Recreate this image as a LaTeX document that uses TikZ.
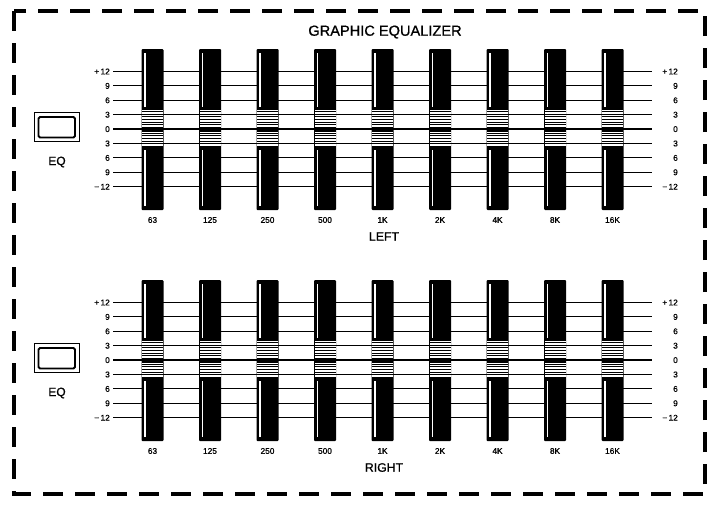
\documentclass[tikz,border=0pt]{standalone}
\usepackage{fontspec}
\setmainfont{Liberation Sans}
\newfontfamily\heavyfont[FakeBold=0.8]{Liberation Sans}
\begin{document}
\begin{tikzpicture}[x=1pt,y=-1pt,
  scl/.style={font=\heavyfont\fontsize{8.3}{9}\selectfont, anchor=east, inner sep=0pt},
  frq/.style={font=\heavyfont\fontsize{8.3}{9}\selectfont, inner sep=0pt},
  sidelab/.style={font=\heavyfont\fontsize{12.3}{14}\selectfont, inner sep=0pt},
  ttl/.style={font=\heavyfont\fontsize{14.6}{17}\selectfont, inner sep=0pt},
  eqlab/.style={font=\heavyfont\fontsize{12}{14}\selectfont, inner sep=0pt},
  gridline/.style={line width=1pt},
  zeroline/.style={line width=1.9pt},
  border/.style={line width=3.2pt, dash pattern=on 20pt off 12pt},
  knobline/.style={line width=0.8pt}]
\useasboundingbox (0,0) rectangle (708,504);
\fill[white] (0,0) rectangle (708,504);
\draw[border] (14,11) rectangle (705,494);
\node[ttl] (title) at (385,32) {GRAPHIC EQUALIZER};
\foreach \oy/\side in {0/LEFT,231/RIGHT}{
  % scale lines and labels
  \foreach \i/\lab in {0/{+\,12},1/9,2/6,3/3,4/0,5/3,6/6,7/9,8/{−\,12}}{
    \pgfmathsetmacro{\yy}{71.5+14.4*\i+\oy}
    \ifnum\i=4
      \draw[zeroline] (113,\yy) -- (652,\yy);
    \else
      \draw[gridline] (113,\yy) -- (652,\yy);
    \fi
    \node[scl] (l\i\side) at (110,\yy) {\lab};
    \node[scl] (r\i\side) at (678,\yy) {\lab};
  }
  % sliders
  \foreach \k/\f in {0/63,1/125,2/250,3/500,4/1K,5/2K,6/4K,7/8K,8/16K}{
    \pgfmathsetmacro{\cx}{152.5+57.5*\k}
    \fill[black, rounded corners=1pt] (\cx-11,49+\oy) rectangle (\cx+11,210+\oy);
    \fill[white] (\cx-8.5,52.5+\oy) rectangle (\cx-6.8,107+\oy);
    \fill[white] (\cx-8.5,150+\oy) rectangle (\cx-6.8,206+\oy);
    \fill[white] (\cx-10.5,110+\oy) rectangle (\cx+10.5,126.5+\oy);
    \fill[white] (\cx-10.5,131.5+\oy) rectangle (\cx+10.5,147+\oy);
    \foreach \s in {0,...,5}{
      \draw[knobline] (\cx-10.5,111.6+2.6*\s+\oy) -- (\cx+10.5,111.6+2.6*\s+\oy);
      \draw[knobline] (\cx-10.5,133.1+2.6*\s+\oy) -- (\cx+10.5,133.1+2.6*\s+\oy);
    }
    \node[frq] (f\k\side) at (\cx,220+\oy) {\f};
  }
  \node[sidelab] (side\side) at (384,236.5+\oy) {\side};
  % EQ button
  \draw[line width=0.9pt] (34.5,112.5+\oy) rectangle (79,141.5+\oy);
  \draw[line width=1.8pt, rounded corners=1.5pt] (38.5,117+\oy) rectangle (75,137.5+\oy);
  \node[eqlab] (eq\side) at (57,162+\oy) {EQ};
}
\end{tikzpicture}
\end{document}
